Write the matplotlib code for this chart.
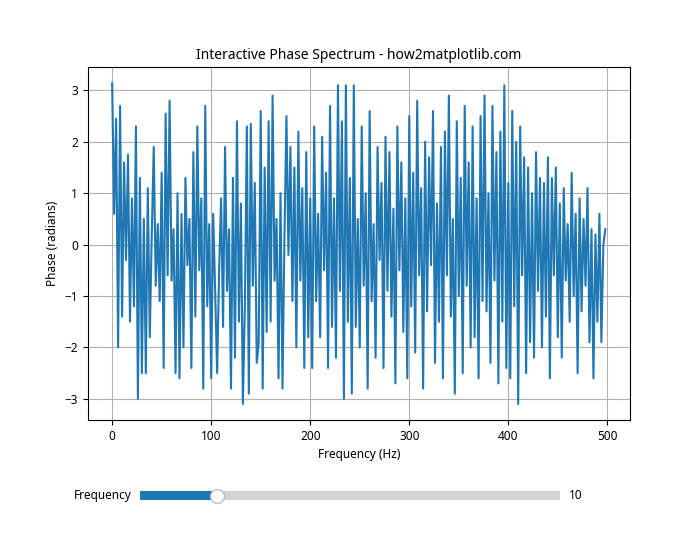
import numpy as np
import matplotlib.pyplot as plt
from matplotlib.widgets import Slider

plt.rcParams['font.family'] = 'Noto Sans'
plt.rcParams['font.size'] = 8.5

# phase values, one every 2 Hz
freqs = np.arange(0, 500, 2)
phase = [
    3.14, 0.6, 2.45, -2.0, 2.7, -1.4, 1.6, -0.3, 1.75, -1.5,
    0.9, -1.2, 2.3, -3.0, 1.3, -2.5, 0.5, -2.5, 1.1, -1.8,
    0.2, 1.9, -0.8, 0.4, -1.1, 1.4, -2.4, 2.55, -0.6, 2.8,
    -0.7, 0.3, -2.5, 1.0, -2.6, 0.6, -2.0, 1.3, -0.4, 0.5,
    -2.4, 1.8, -1.4, 2.3, -0.5, 0.9, -2.8, 2.7, -1.2, 0.4,
    -2.6, 0.6, -0.9, -2.5, -0.5, 0.9, -1.6, 1.9, -0.9, 0.3,
    -2.8, 1.3, -2.2, 2.4, -1.5, 0.8, -3.1, -1.2, 2.3, -2.9,
    2.35, -0.8, 1.2, -2.3, -1.9, 2.6, -2.8, 1.5, -1.7, 2.4,
    -1.5, 2.9, -0.7, 0.5, -2.6, 1.0, -2.8, 0.2, 2.5, -0.2,
    1.9, -1.1, 1.5, -2.0, 2.2, -0.7, 1.1, -2.4, 1.8, -1.8,
    0.9, -2.4, 2.3, -1.1, 0.6, -1.8, 2.1, -0.5, 1.4, -2.4,
    2.7, -1.6, 0.9, -2.2, 3.1, -0.9, 2.4, -3.0, 3.1, -1.5,
    1.3, -2.9, 3.1, -1.6, 0.5, -2.0, 2.3, -0.8, 1.0, -2.8,
    2.6, -1.1, 0.4, -2.2, 1.9, -0.3, 1.2, -2.4, 2.1, -0.9,
    1.8, -1.4, 0.7, -2.7, 2.3, -0.5, 1.6, -1.7, 0.9, -2.6,
    2.5, -1.2, 1.4, -2.1, 2.8, -0.6, 1.1, -2.8, 2.0, -1.3,
    1.7, -0.4, 2.6, -2.3, 0.8, -1.5, 1.9, -2.6, 2.2, -0.6,
    2.9, -1.4, 0.5, -2.9, 2.4, -1.0, 1.3, -2.5, 2.7, -0.8,
    1.6, -2.0, 2.3, -1.8, 0.9, -2.6, 2.5, -1.1, 2.9, -1.3,
    1.0, -2.3, 2.7, -0.7, 1.8, -2.7, 2.2, -1.5, 3.1, -2.4,
    1.2, -2.6, 2.6, -1.2, 2.0, -3.1, 2.3, -0.6, 1.7, -2.5,
    1.5, -1.9, 1.0, -2.2, 1.8, -0.9, 1.3, -2.0, 1.2, -1.4,
    1.7, -2.6, 1.3, -0.6, 1.5, -1.8, 0.8, -2.2, 1.1, -0.7,
    0.4, -1.5, 1.4, -1.0, 0.6, -2.5, 0.9, -1.3, 0.5, -0.8,
    1.1, -1.9, 0.3, -2.6, 0.2, -1.5, 0.6, -1.9, 0.0, 0.3,
]

fig = plt.figure(figsize=(7, 5.6), dpi=100)
ax = fig.add_subplot(111)
plt.subplots_adjust(bottom=0.25)
ax.plot(freqs, phase, color="#1f77b4")
ax.grid(True)
ax.set_xlabel('Frequency (Hz)')
ax.set_ylabel('Phase (radians)')
ax.set_title('Interactive Phase Spectrum - how2matplotlib.com', fontsize=10)

ax_freq = fig.add_axes([0.2, 0.1, 0.6, 0.03])
slider = Slider(ax_freq, 'Frequency', 1, 50, valinit=10, valfmt='%d')

plt.savefig('out.png')
